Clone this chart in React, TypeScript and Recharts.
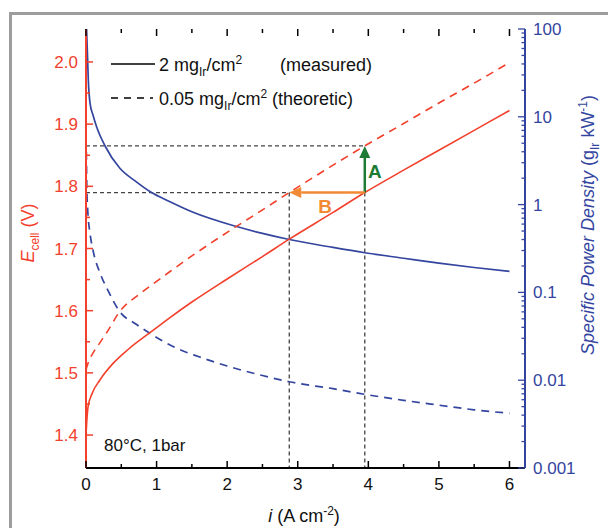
import React from 'react';
import { ComposedChart, Line, XAxis, YAxis, ReferenceLine } from 'recharts';

const RED = '#f2402c';
const BLUE = '#34459f';
const GREEN = '#1e7b34';
const ORANGE = '#f28a35';
const GUIDE = '#444';
const FONT = '"Liberation Sans", Arial, sans-serif';

// cell voltage vs current density, 2 mg_Ir/cm2 (measured)
const measuredI = [0, 0.01, 0.03, 0.08, 0.2, 0.39, 0.6, 0.91, 1.19, 1.5, 2.0, 2.5, 2.88, 3.5, 3.95, 4.5, 5.0, 5.5, 6.0];
const measuredE = [1.4, 1.42, 1.446, 1.465, 1.489, 1.516, 1.538, 1.565, 1.589, 1.614, 1.651, 1.687, 1.715, 1.758, 1.79, 1.826, 1.858, 1.89, 1.922];

// cell voltage, 0.05 mg_Ir/cm2 (theoretic)
const theoryI = [0, 0.03, 0.1, 0.2, 0.3, 0.48, 0.75, 1.0, 1.19, 1.5, 2.0, 2.5, 2.88, 3.5, 3.95, 4.5, 5.0, 5.5, 6.0];
const theoryE = [1.505, 1.516, 1.532, 1.549, 1.566, 1.599, 1.626, 1.647, 1.663, 1.688, 1.726, 1.762, 1.79, 1.834, 1.865, 1.901, 1.934, 1.966, 1.999];

// specific power density (g_Ir/kW), measured
const measuredSpdI = [0.008, 0.02, 0.033, 0.057, 0.1, 0.15, 0.27, 0.48, 0.7, 0.91, 1.19, 1.5, 2.11, 2.5, 2.88, 3.5, 3.95, 4.5, 5.0, 5.5, 6.0];
const measuredSpd = [100, 53, 26, 14.3, 10.4, 7.7, 4.65, 2.59, 1.85, 1.4, 1.08, 0.83, 0.57, 0.47, 0.4, 0.325, 0.283, 0.245, 0.215, 0.192, 0.174];

// specific power density, theoretic
const theorySpdI = [0.005, 0.012, 0.025, 0.057, 0.1, 0.2, 0.3, 0.48, 0.7, 0.91, 1.24, 1.6, 2.0, 2.5, 2.88, 3.5, 3.95, 4.5, 5.0, 5.5, 6.0];
const theorySpd = [4.0, 1.5, 0.85, 0.47, 0.3, 0.165, 0.11, 0.06, 0.044, 0.034, 0.024, 0.0185, 0.0145, 0.0113, 0.0096, 0.008, 0.0069, 0.0059, 0.0052, 0.0046, 0.0042];

// ticks
const xTicks = [0, 0.5, 1, 1.5, 2, 2.5, 3, 3.5, 4, 4.5, 5, 5.5, 6];
const eTicks = [1.4, 1.45, 1.5, 1.55, 1.6, 1.65, 1.7, 1.75, 1.8, 1.85, 1.9, 1.95, 2.0];
const spdTickLabels = [0.001, 0.01, 0.1, 1, 10, 100];

// A / B construction
const iA = 3.95;
const iB = 2.88;
const eLow = 1.79;
const eHigh = 1.865;

const X_DOMAIN = [0, 6.22];
const E_DOMAIN = [1.347, 2.053];
const SPD_DOMAIN = [0.001, 100];

// layout
const W = 608;
const H = 528;
const TOP = 29;
const LEFT_W = 86;
const RIGHT_W = 83;
const BOTTOM_H = 60;
const plot = { left: LEFT_W, right: W - RIGHT_W, top: TOP, bottom: H - BOTTOM_H };

const spdTicks: number[] = [];
spdTickLabels.forEach((d, k) => {
  if (k === spdTickLabels.length - 1) {
    spdTicks.push(d);
    return;
  }
  for (let m = 1; m <= 9; m++) spdTicks.push(+(d * m).toPrecision(3));
});

const measured = measuredI.map((i, k) => ({ i, e: measuredE[k] }));
const theory = theoryI.map((i, k) => ({ i, e: theoryE[k] }));
const measuredSpdData = measuredSpdI.map((i, k) => ({ i, p: measuredSpd[k] }));
const theorySpdData = theorySpdI.map((i, k) => ({ i, p: theorySpd[k] }));

const isXMajor = (v: number) => Number.isInteger(v);
const isEMajor = (v: number) => Math.abs(v * 10 - Math.round(v * 10)) < 1e-6;
const isSpdMajor = (v: number) => spdTickLabels.some((m) => Math.abs(m - v) / m < 1e-6);

// same mappings as the chart axes, used only for the inward tick marks
const xPix = (v: number) => plot.left + ((v - X_DOMAIN[0]) / (X_DOMAIN[1] - X_DOMAIN[0])) * (plot.right - plot.left);
const ePix = (v: number) => plot.bottom - ((v - E_DOMAIN[0]) / (E_DOMAIN[1] - E_DOMAIN[0])) * (plot.bottom - plot.top);
const pPix = (v: number) =>
  plot.bottom -
  ((Math.log10(v) - Math.log10(SPD_DOMAIN[0])) / (Math.log10(SPD_DOMAIN[1]) - Math.log10(SPD_DOMAIN[0]))) *
    (plot.bottom - plot.top);

const tickFont = { fontSize: 17, fontFamily: FONT };

const arrowShape = (color: string, label: string, dx: number, dy: number) => (p: any) => {
  const { x1, y1, x2, y2 } = p;
  const ang = Math.atan2(y2 - y1, x2 - x1);
  const hl = 12;
  const hw = 5.5;
  const bx = x2 - hl * Math.cos(ang);
  const by = y2 - hl * Math.sin(ang);
  const px = -Math.sin(ang) * hw;
  const py = Math.cos(ang) * hw;
  return (
    <g>
      <line x1={x1} y1={y1} x2={bx} y2={by} stroke={color} strokeWidth={2.5} />
      <polygon points={`${x2},${y2} ${bx + px},${by + py} ${bx - px},${by - py}`} fill={color} />
      <text
        x={(x1 + x2) / 2 + dx}
        y={(y1 + y2) / 2 + dy}
        fill={color}
        fontWeight="bold"
        fontSize={19}
        textAnchor="middle"
        fontFamily={FONT}
      >
        {label}
      </text>
    </g>
  );
};

const guide = {
  xAxisId: 'b',
  yAxisId: 'e',
  stroke: GUIDE,
  strokeWidth: 1.3,
  strokeDasharray: '4 3',
  ifOverflow: 'visible' as const,
};

export default function App() {
  return (
    <div style={{ position: 'absolute', left: 0, top: 0, width: W, height: H, background: '#fff', overflow: 'hidden' }}>
      <div
        style={{
          position: 'absolute',
          left: 9,
          top: 12,
          width: 620,
          height: 540,
          borderTop: '3px solid #9d9d9d',
          borderLeft: '3px solid #9d9d9d',
        }}
      />
      <div style={{ position: 'absolute', left: 0, top: 0 }}>
        <ComposedChart width={W} height={H} margin={{ top: TOP, right: 0, bottom: 0, left: 0 }}>
          <XAxis
            xAxisId="b"
            type="number"
            dataKey="i"
            domain={X_DOMAIN}
            allowDataOverflow
            ticks={xTicks}
            interval={0}
            height={BOTTOM_H}
            tickSize={0}
            tickMargin={10}
            tickLine={false}
            axisLine={{ stroke: '#000', strokeWidth: 2 }}
            tick={{ ...tickFont, fill: '#111' }}
            tickFormatter={(v: number) => (isXMajor(v) ? String(v) : '')}
          />
          <XAxis
            xAxisId="t"
            orientation="top"
            type="number"
            dataKey="i"
            domain={X_DOMAIN}
            allowDataOverflow
            height={0}
            tickSize={0}
            tickLine={false}
            tick={false}
            axisLine={{ stroke: '#000', strokeWidth: 2 }}
          />
          <YAxis
            yAxisId="e"
            type="number"
            domain={E_DOMAIN}
            allowDataOverflow
            ticks={eTicks}
            interval={0}
            width={LEFT_W}
            tickSize={0}
            tickMargin={8}
            tickLine={false}
            axisLine={{ stroke: RED, strokeWidth: 2 }}
            tick={{ ...tickFont, fill: RED }}
            tickFormatter={(v: number) => (isEMajor(v) ? v.toFixed(1) : '')}
          />
          <YAxis
            yAxisId="p"
            orientation="right"
            type="number"
            scale="log"
            domain={SPD_DOMAIN}
            allowDataOverflow
            ticks={spdTicks}
            interval={0}
            width={RIGHT_W}
            tickSize={0}
            tickMargin={8}
            tickLine={false}
            axisLine={{ stroke: BLUE, strokeWidth: 2 }}
            tick={{ ...tickFont, fill: BLUE }}
            tickFormatter={(v: number) => (isSpdMajor(v) ? String(v) : '')}
          />

          <ReferenceLine {...guide} segment={[{ x: 0, y: eHigh }, { x: iA, y: eHigh }]} />
          <ReferenceLine {...guide} segment={[{ x: 0, y: eLow }, { x: iB, y: eLow }]} />
          <ReferenceLine {...guide} segment={[{ x: iB, y: eLow }, { x: iB, y: E_DOMAIN[0] }]} />
          <ReferenceLine {...guide} segment={[{ x: iA, y: eLow }, { x: iA, y: E_DOMAIN[0] }]} />

          <Line xAxisId="b" yAxisId="p" data={measuredSpdData} dataKey="p" type="monotone" stroke={BLUE} strokeWidth={1.7} dot={false} isAnimationActive={false} />
          <Line xAxisId="b" yAxisId="p" data={theorySpdData} dataKey="p" type="monotone" stroke={BLUE} strokeWidth={1.7} strokeDasharray="8 6" dot={false} isAnimationActive={false} />
          <Line xAxisId="b" yAxisId="e" data={measured} dataKey="e" type="monotone" stroke={RED} strokeWidth={1.6} dot={false} isAnimationActive={false} />
          <Line xAxisId="b" yAxisId="e" data={theory} dataKey="e" type="monotone" stroke={RED} strokeWidth={1.6} strokeDasharray="8 6" dot={false} isAnimationActive={false} />

          <ReferenceLine
            xAxisId="b"
            yAxisId="e"
            ifOverflow="visible"
            segment={[{ x: iA, y: eLow }, { x: iA, y: eHigh }]}
            shape={arrowShape(GREEN, 'A', 10, 9)}
          />
          <ReferenceLine
            xAxisId="b"
            yAxisId="e"
            ifOverflow="visible"
            segment={[{ x: iA, y: eLow }, { x: iB, y: eLow }]}
            shape={arrowShape(ORANGE, 'B', -2, 20)}
          />
        </ComposedChart>
      </div>

      <svg width={W} height={H} style={{ position: 'absolute', left: 0, top: 0, pointerEvents: 'none' }} fontFamily={FONT}>
        {/* inward tick marks */}
        {xTicks.map((v) => {
          const x = xPix(v);
          const len = isXMajor(v) ? 7 : 4;
          return (
            <g key={`x${v}`} stroke="#000" strokeWidth={1.5}>
              <line x1={x} x2={x} y1={plot.bottom} y2={plot.bottom - len} />
              <line x1={x} x2={x} y1={plot.top} y2={plot.top + len} />
            </g>
          );
        })}
        {eTicks.map((v) => {
          const y = ePix(v);
          return <line key={`e${v}`} x1={plot.left} x2={plot.left + (isEMajor(v) ? 7 : 4)} y1={y} y2={y} stroke={RED} strokeWidth={1.5} />;
        })}
        {spdTicks.map((v) => {
          const y = pPix(v);
          return <line key={`p${v}`} x1={plot.right} x2={plot.right - (isSpdMajor(v) ? 7 : 3.5)} y1={y} y2={y} stroke={BLUE} strokeWidth={1.3} />;
        })}

        {/* legend */}
        <line x1={111} x2={155} y1={64} y2={64} stroke="#000" strokeWidth={1.6} />
        <text x={159} y={71} fontSize={18} fill="#111">
          2 mg<tspan fontSize={12} dy={5}>Ir</tspan>
          <tspan dy={-5}>/cm</tspan>
          <tspan fontSize={12} dy={-7}>2</tspan>
        </text>
        <text x={280} y={71} fontSize={18} fill="#111">(measured)</text>
        <line x1={111} x2={153} y1={98} y2={98} stroke="#000" strokeWidth={1.6} strokeDasharray="7 6" />
        <text x={159} y={105} fontSize={18} fill="#111">
          0.05 mg<tspan fontSize={12} dy={5}>Ir</tspan>
          <tspan dy={-5}>/cm</tspan>
          <tspan fontSize={12} dy={-7}>2</tspan>
          <tspan dy={7}> (theoretic)</tspan>
        </text>

        <text x={104} y={451} fontSize={17} fill="#111">80°C, 1bar</text>

        {/* axis titles */}
        <text x={34} y={233} transform="rotate(-90 34 233)" textAnchor="middle" fontSize={18} fill={RED}>
          <tspan fontStyle="italic">E</tspan>
          <tspan fontSize={12} dy={5}>cell</tspan>
          <tspan dy={-5}> (V)</tspan>
        </text>
        <text x={304} y={522} textAnchor="middle" fontSize={18} fill="#111">
          <tspan fontStyle="italic">i</tspan>
          <tspan> (A cm</tspan>
          <tspan fontSize={12} dy={-7}>-2</tspan>
          <tspan dy={7}>)</tspan>
        </text>
        <text x={594} y={225} transform="rotate(-90 594 225)" textAnchor="middle" fontSize={18} fill={BLUE}>
          <tspan fontStyle="italic">Specific Power Density</tspan>
          <tspan> (g</tspan>
          <tspan fontSize={12} dy={5}>Ir</tspan>
          <tspan dy={-5}> kW</tspan>
          <tspan fontSize={12} dy={-7}>-1</tspan>
          <tspan dy={7}>)</tspan>
        </text>
      </svg>
    </div>
  );
}
